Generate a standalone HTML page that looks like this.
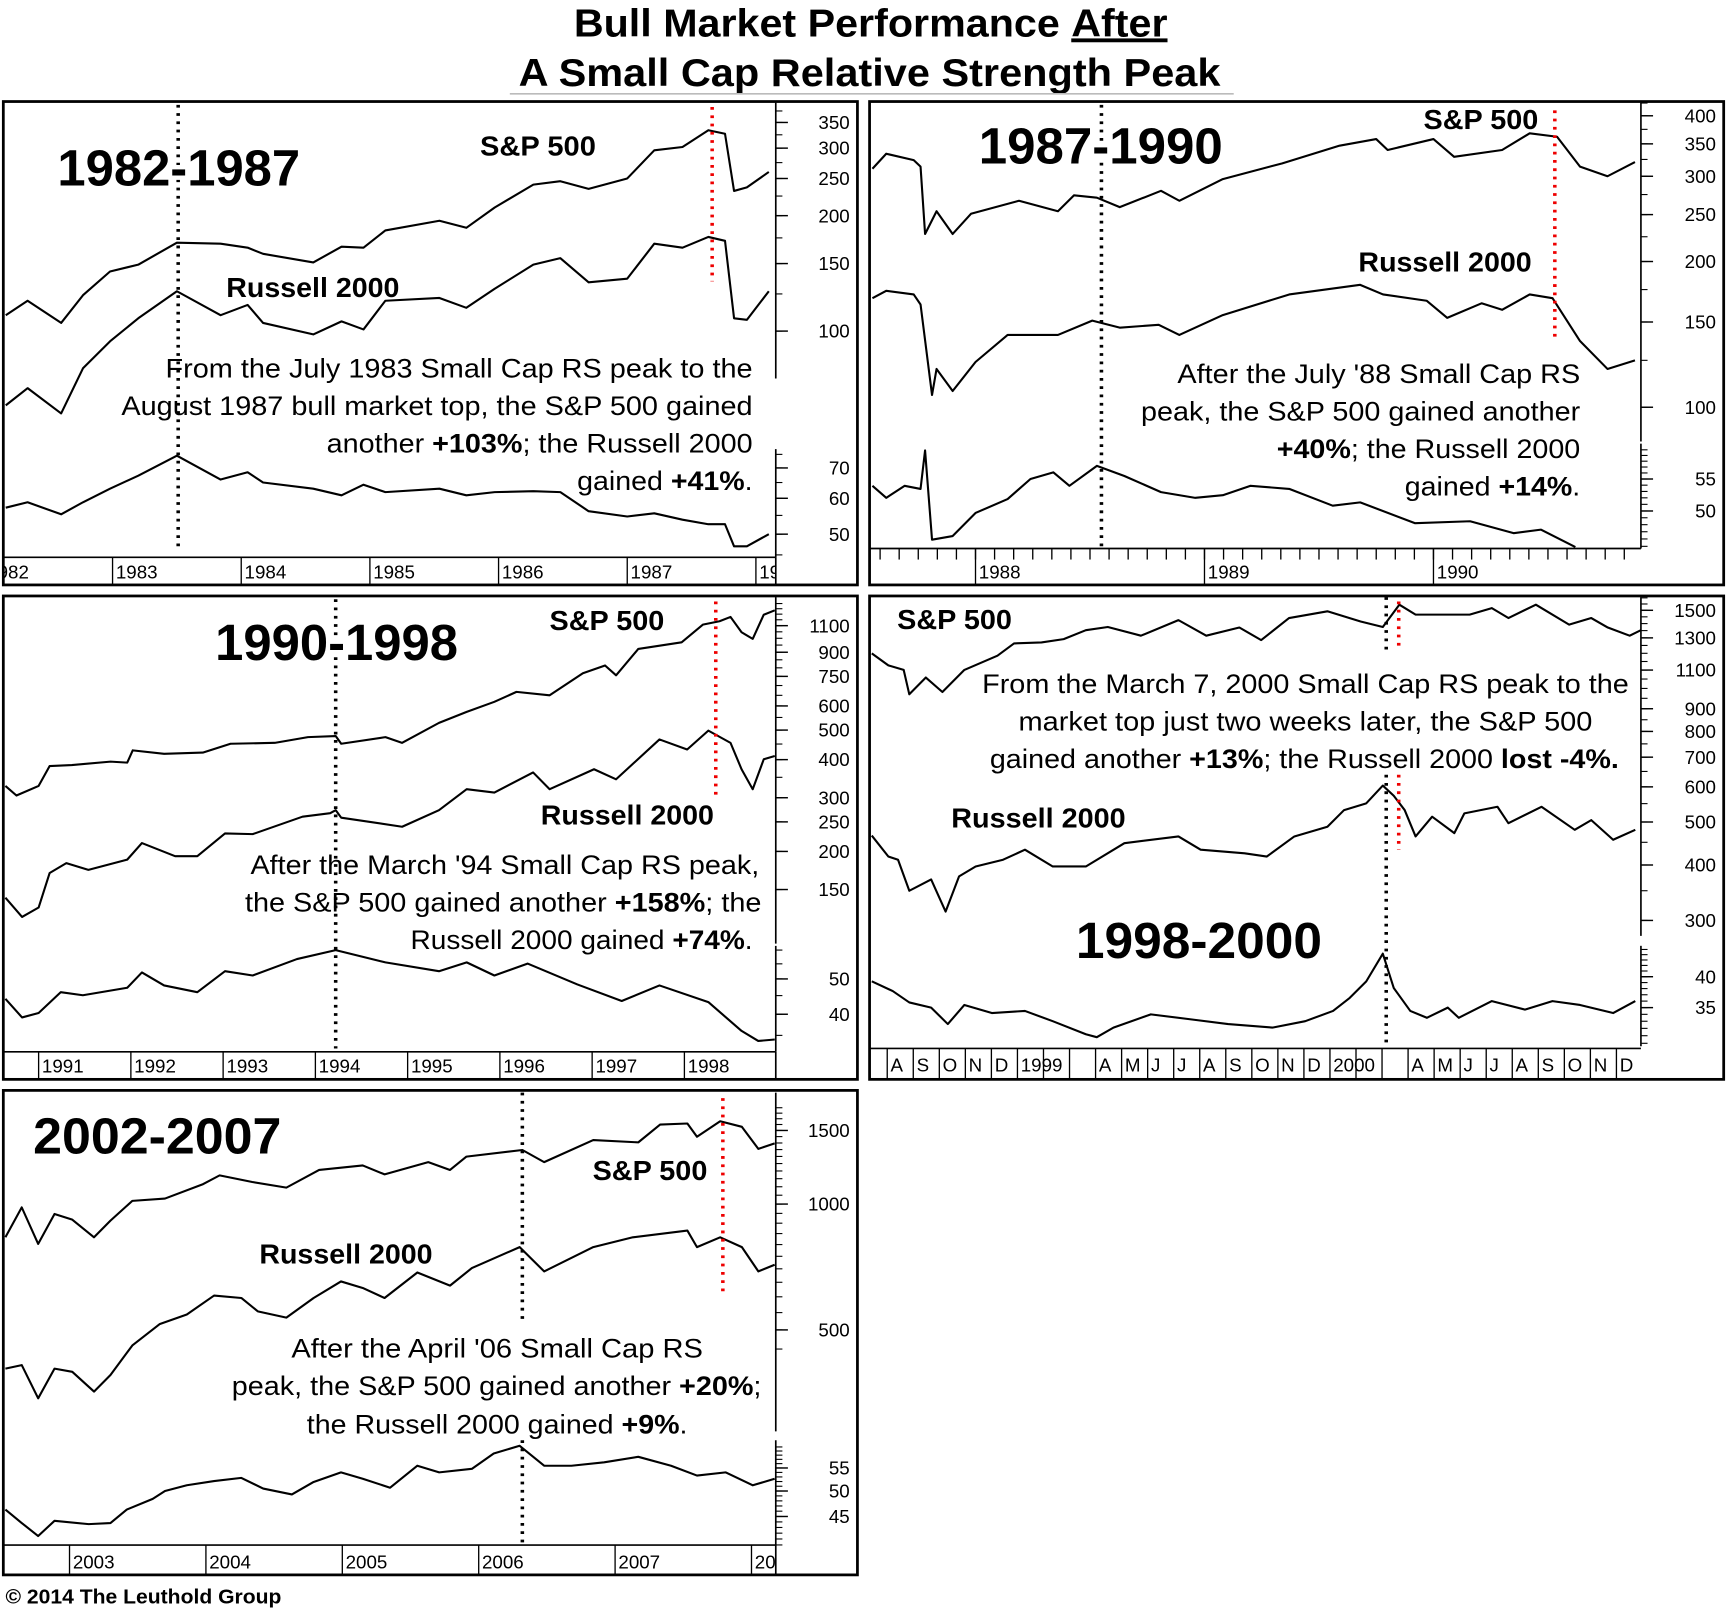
<!DOCTYPE html>
<html><head><meta charset="utf-8"><title>Bull Market Performance After A Small Cap Relative Strength Peak</title>
<style>
html,body{margin:0;padding:0;background:#fff;}
svg{display:block;}
text{font-family:"Liberation Sans",Arial,sans-serif;fill:#000;}
.big{font-size:46px;font-weight:bold;stroke:#fff;stroke-width:8px;paint-order:stroke;stroke-linejoin:round;}
.lab{font-size:25px;font-weight:bold;}
.ann{font-size:24px;}
.tick{font-size:17px;}
</style></head>
<body>
<svg id="chart" width="1727" height="1608" viewBox="0 0 1565 1457" preserveAspectRatio="none" xmlns="http://www.w3.org/2000/svg">
<defs>
<clipPath id="clipA"><rect x="4" y="93" width="699" height="412"/></clipPath>
<clipPath id="clipB"><rect x="789" y="93" width="698" height="404"/></clipPath>
<clipPath id="clipC"><rect x="4" y="541" width="699" height="412"/></clipPath>
<clipPath id="clipD"><rect x="789" y="541" width="698" height="409"/></clipPath>
<clipPath id="clipE"><rect x="4" y="989" width="699" height="411"/></clipPath>
<clipPath id="stripA"><rect x="4" y="505" width="699" height="25"/></clipPath>
<clipPath id="stripB"><rect x="789" y="497" width="698" height="33"/></clipPath>
<clipPath id="stripC"><rect x="4" y="953" width="699" height="25"/></clipPath>
<clipPath id="stripD"><rect x="789" y="950" width="698" height="28"/></clipPath>
<clipPath id="stripE"><rect x="4" y="1400" width="699" height="27"/></clipPath>
</defs>
<rect x="0" y="0" width="1565" height="1457" fill="#fff"/>
<g>
<text x="520" y="33" font-size="35" font-weight="bold" textLength="538" lengthAdjust="spacingAndGlyphs">Bull Market Performance <tspan text-decoration="underline">After</tspan></text>
<text x="470" y="78" font-size="35" font-weight="bold" textLength="636" lengthAdjust="spacingAndGlyphs">A Small Cap Relative Strength Peak</text>
<line x1="462" y1="85" x2="1118" y2="85" stroke="#bbb" stroke-width="1.5"/>
</g>

<g id="panelA">
<rect x="3" y="92" width="774" height="438" fill="none" stroke="#000" stroke-width="2.5"/>
<text class="big" x="52" y="168" textLength="220" lengthAdjust="spacingAndGlyphs">1982-1987</text>
<text class="lab" x="435" y="141" textLength="105" lengthAdjust="spacingAndGlyphs">S&amp;P 500</text>
<text class="lab" x="205" y="269" textLength="157" lengthAdjust="spacingAndGlyphs">Russell 2000</text>
<g>
<text class="ann" x="150" y="342" textLength="532" lengthAdjust="spacingAndGlyphs">From the July 1983 Small Cap RS peak to the</text>
<text class="ann" x="110" y="376" textLength="572" lengthAdjust="spacingAndGlyphs">August 1987 bull market top, the S&amp;P 500 gained</text>
<text class="ann" x="296" y="410" textLength="386" lengthAdjust="spacingAndGlyphs">another <tspan font-weight="bold">+103%</tspan>; the Russell 2000</text>
<text class="ann" x="523" y="444" textLength="159" lengthAdjust="spacingAndGlyphs">gained <tspan font-weight="bold">+41%</tspan>.</text>
</g>
</g>

<g id="panelB">
<rect x="788" y="92" width="774" height="438" fill="none" stroke="#000" stroke-width="2.5"/>
<text class="big" x="887" y="148" textLength="221" lengthAdjust="spacingAndGlyphs">1987-1990</text>
<text class="lab" x="1290" y="117" textLength="104" lengthAdjust="spacingAndGlyphs">S&amp;P 500</text>
<text class="lab" x="1231" y="246" textLength="157" lengthAdjust="spacingAndGlyphs">Russell 2000</text>
<g>
<text class="ann" x="1067" y="347" textLength="365" lengthAdjust="spacingAndGlyphs">After the July '88 Small Cap RS</text>
<text class="ann" x="1034" y="381" textLength="398" lengthAdjust="spacingAndGlyphs">peak, the S&amp;P 500 gained another</text>
<text class="ann" x="1157" y="415" textLength="275" lengthAdjust="spacingAndGlyphs"><tspan font-weight="bold">+40%</tspan>; the Russell 2000</text>
<text class="ann" x="1273" y="449" textLength="159" lengthAdjust="spacingAndGlyphs">gained <tspan font-weight="bold">+14%</tspan>.</text>
</g>
</g>

<g id="panelC">
<rect x="3" y="540" width="774" height="438" fill="none" stroke="#000" stroke-width="2.5"/>
<text class="big" x="195" y="598" textLength="220" lengthAdjust="spacingAndGlyphs">1990-1998</text>
<text class="lab" x="498" y="571" textLength="104" lengthAdjust="spacingAndGlyphs">S&amp;P 500</text>
<text class="lab" x="490" y="747" textLength="157" lengthAdjust="spacingAndGlyphs">Russell 2000</text>
<g>
<text class="ann" x="227" y="792" textLength="461" lengthAdjust="spacingAndGlyphs">After the March '94 Small Cap RS peak,</text>
<text class="ann" x="222" y="826" textLength="468" lengthAdjust="spacingAndGlyphs">the S&amp;P 500 gained another <tspan font-weight="bold">+158%</tspan>; the</text>
<text class="ann" x="372" y="860" textLength="310" lengthAdjust="spacingAndGlyphs">Russell 2000 gained <tspan font-weight="bold">+74%</tspan>.</text>
</g>
</g>

<g id="panelD">
<rect x="788" y="540" width="774" height="438" fill="none" stroke="#000" stroke-width="2.5"/>
<text class="lab" x="813" y="570" textLength="104" lengthAdjust="spacingAndGlyphs">S&amp;P 500</text>
<text class="lab" x="862" y="750" textLength="158" lengthAdjust="spacingAndGlyphs">Russell 2000</text>
<text class="big" x="975" y="868" textLength="223" lengthAdjust="spacingAndGlyphs">1998-2000</text>
<g>
<text class="ann" x="890" y="628" textLength="586" lengthAdjust="spacingAndGlyphs">From the March 7, 2000 Small Cap RS peak to the</text>
<text class="ann" x="923" y="662" textLength="520" lengthAdjust="spacingAndGlyphs">market top just two weeks later, the S&amp;P 500</text>
<text class="ann" x="897" y="696" textLength="570" lengthAdjust="spacingAndGlyphs">gained another <tspan font-weight="bold">+13%</tspan>; the Russell 2000 <tspan font-weight="bold">lost -4%.</tspan></text>
</g>
</g>

<g id="panelE">
<rect x="3" y="988" width="774" height="439" fill="none" stroke="#000" stroke-width="2.5"/>
<text class="big" x="30" y="1045" textLength="225" lengthAdjust="spacingAndGlyphs">2002-2007</text>
<text class="lab" x="537" y="1069" textLength="104" lengthAdjust="spacingAndGlyphs">S&amp;P 500</text>
<text class="lab" x="235" y="1145" textLength="157" lengthAdjust="spacingAndGlyphs">Russell 2000</text>
<g>
<text class="ann" x="264" y="1230" textLength="373" lengthAdjust="spacingAndGlyphs">After the April '06 Small Cap RS</text>
<text class="ann" x="210" y="1264" textLength="480" lengthAdjust="spacingAndGlyphs">peak, the S&amp;P 500 gained another <tspan font-weight="bold">+20%</tspan>;</text>
<text class="ann" x="278" y="1299" textLength="345" lengthAdjust="spacingAndGlyphs">the Russell 2000 gained <tspan font-weight="bold">+9%</tspan>.</text>
</g>
</g>

<text x="5" y="1453" font-size="18" font-weight="bold" textLength="250" lengthAdjust="spacingAndGlyphs">© 2014 The Leuthold Group</text>
</svg>

<script>
// ---------- DATA (decimal-year dates + index values) ----------
const aDates = [1982.17,1982.34,1982.60,1982.77,1982.98,1983.20,1983.50,1983.84,1984.05,1984.17,1984.56,1984.78,1984.95,1985.12,1985.54,1985.75,1985.97,1986.27,1986.48,1986.70,1987.00,1987.21,1987.43,1987.63,1987.76,1987.83,1987.93,1988.10];
const aSpx = [110,120,105,124,143,149,170,169,165,159,151,166,165,183,194,186,210,241,246,235,250,296,302,334,327,232,237,260];
const aRut = [64,71,61,80,94,108,127,110,117,105,98,106,101,120,122,115,129,149,155,134,137,169,165,176,172,108,107,127];
const aRatio = [57.2,58.8,55.3,58.8,63,67.3,74.5,66,68.5,65,63,60.9,64.3,61.9,63,60.9,61.9,62.2,61.9,56.2,54.7,55.6,53.8,52.6,52.6,47,47,50];
const bSpxDates = [1987.55,1987.61,1987.73,1987.76,1987.78,1987.83,1987.90,1987.98,1988.19,1988.36,1988.43,1988.53,1988.63,1988.81,1988.89,1989.08,1989.34,1989.59,1989.75,1989.80,1990.00,1990.09,1990.30,1990.42,1990.54,1990.64,1990.76,1990.88];
const bSpx = [311,334,324,314,228,254,228,251,267,254,274,271,259,280,267,296,319,347,358,340,358,329,340,368,362,314,300,321];
const bRutDates = [1987.55,1987.61,1987.73,1987.76,1987.81,1987.83,1987.90,1988.00,1988.14,1988.36,1988.51,1988.63,1988.80,1988.89,1989.08,1989.37,1989.68,1989.78,1989.97,1990.06,1990.21,1990.30,1990.42,1990.52,1990.64,1990.76,1990.88];
const bRut = [168,174,171,163,106,120,108,124,141,141,151,146,148,141,155,171,179,171,166,153,164,159,171,168,137,120,125];
const bRatioDates = [1987.55,1987.61,1987.69,1987.76,1987.78,1987.81,1987.90,1988.00,1988.14,1988.24,1988.34,1988.41,1988.53,1988.65,1988.81,1988.96,1989.08,1989.20,1989.37,1989.56,1989.68,1989.92,1990.16,1990.35,1990.47,1990.62];
const bRatio = [53.9,52.0,53.9,53.4,59.9,45.9,46.4,49.7,51.8,55.0,56.1,53.9,57.2,55.5,52.9,52.0,52.4,53.9,53.4,50.8,51.3,48.2,48.5,46.8,47.3,44.9];
const cSpxDates = [1990.64,1990.76,1991.00,1991.12,1991.36,1991.78,1991.96,1992.02,1992.36,1992.78,1993.08,1993.56,1993.92,1994.22,1994.28,1994.76,1994.94,1995.34,1995.64,1995.94,1996.18,1996.54,1996.90,1997.14,1997.26,1997.50,1997.97,1998.20,1998.38,1998.50,1998.62,1998.74,1998.86,1998.98];
const cSpx = [328,305,328,381,384,394,391,429,418,422,451,454,474,478,451,474,454,528,574,619,667,650,768,814,756,923,970,1108,1137,1175,1046,995,1195,1235];
const cRutDates = [1990.64,1990.82,1991.00,1991.12,1991.30,1991.54,1991.96,1992.12,1992.48,1992.72,1993.02,1993.32,1993.86,1994.16,1994.22,1994.28,1994.94,1995.34,1995.64,1995.94,1996.36,1996.54,1997.02,1997.26,1997.73,1998.03,1998.26,1998.50,1998.62,1998.74,1998.86,1998.98];
const cRut = [141,122,131,170,183,174,188,213,193,193,229,228,260,267,273,258,241,273,320,312,363,320,372,345,466,432,498,454,372,320,401,411];
const cRatioDates = [1990.64,1990.82,1991.00,1991.24,1991.48,1991.96,1992.12,1992.36,1992.72,1993.02,1993.32,1993.80,1994.22,1994.76,1995.34,1995.64,1995.94,1996.30,1996.84,1997.32,1997.73,1998.26,1998.62,1998.80,1998.98];
const cRatio = [44.1,39.2,40.3,46.0,45.1,47.3,52.1,48.0,46.0,52.5,51.1,56.7,60.0,55.5,52.5,55.5,51.1,55.1,48.3,43.5,48.0,43.2,36.0,33.8,34.1];
const dSpxDates = [1998.534,1998.587,1998.636,1998.654,1998.707,1998.760,1998.830,1998.936,1998.989,1999.077,1999.148,1999.219,1999.289,1999.395,1999.515,1999.604,1999.710,1999.780,1999.869,1999.992,2000.098,2000.169,2000.222,2000.274,2000.363,2000.447,2000.518,2000.571,2000.659,2000.765,2000.836,2000.889,2000.959,2000.995];
const dSpx = [1200,1127,1101,970,1058,982,1101,1185,1263,1270,1292,1353,1376,1315,1425,1315,1372,1285,1441,1492,1416,1376,1544,1467,1467,1467,1517,1441,1544,1392,1441,1372,1315,1353];
const dRutDates = [1998.534,1998.587,1998.618,1998.654,1998.724,1998.770,1998.813,1998.866,1998.954,1999.024,1999.113,1999.219,1999.342,1999.515,1999.586,1999.727,1999.798,1999.886,1999.992,2000.045,2000.116,2000.169,2000.204,2000.239,2000.274,2000.327,2000.398,2000.430,2000.536,2000.571,2000.677,2000.783,2000.836,2000.906,2000.977];
const dRut = [466,418,411,350,371,314,377,397,411,433,397,397,448,464,433,425,418,464,488,532,551,604,573,532,464,514,472,523,541,497,541,480,505,456,480];
const dRatioDates = [1998.534,1998.601,1998.654,1998.724,1998.777,1998.830,1998.918,1999.024,1999.113,1999.219,1999.254,1999.307,1999.427,1999.568,1999.674,1999.816,1999.921,2000.010,2000.063,2000.116,2000.169,2000.204,2000.257,2000.310,2000.377,2000.412,2000.518,2000.624,2000.712,2000.800,2000.906,2000.977];
const dRatio = [39.2,37.6,35.8,35.0,32.6,35.4,34.2,34.5,33.0,31.2,30.8,32.1,34.0,33.2,32.6,32.1,33.0,34.5,36.5,39.2,44.2,38.1,34.5,33.5,35.0,33.5,36.0,34.7,36.0,35.4,34.2,36.0];
const eSpxDates = [2002.53,2002.65,2002.77,2002.89,2003.02,2003.18,2003.30,2003.46,2003.70,2003.98,2004.10,2004.34,2004.59,2004.83,2005.15,2005.31,2005.63,2005.79,2005.91,2006.32,2006.48,2006.84,2007.17,2007.33,2007.53,2007.60,2007.77,2007.93,2008.05,2008.17];
const eSpx = [833,982,803,947,918,833,913,1018,1031,1116,1171,1129,1095,1207,1237,1178,1260,1207,1299,1347,1260,1423,1405,1549,1559,1449,1578,1530,1355,1397];
const eRutDates = [2002.53,2002.65,2002.77,2002.89,2003.02,2003.18,2003.30,2003.46,2003.66,2003.86,2004.06,2004.26,2004.38,2004.59,2004.79,2004.99,2005.15,2005.31,2005.55,2005.79,2005.95,2006.30,2006.48,2006.84,2007.13,2007.53,2007.60,2007.77,2007.93,2008.05,2008.17];
const eRut = [404,412,343,404,397,356,390,459,516,544,604,596,554,535,596,653,630,596,686,638,703,789,690,789,833,864,789,833,789,690,716];
const eRatioDates = [2002.53,2002.65,2002.77,2002.89,2003.14,2003.30,2003.42,2003.61,2003.70,2003.86,2004.06,2004.26,2004.42,2004.63,2004.79,2004.99,2005.15,2005.35,2005.55,2005.71,2005.95,2006.11,2006.30,2006.48,2006.68,2006.92,2007.17,2007.41,2007.60,2007.81,2008.01,2008.17];
const eRatio = [46.3,43.8,41.5,44.2,43.6,43.8,46.3,48.4,50,51.2,52.1,52.8,50.5,49.3,51.9,54.0,52.6,50.7,55.5,54.0,54.8,58.4,60.3,55.5,55.5,56.3,57.6,55.5,53.3,54.0,51.2,52.6];
const aMainTicks = [350,300,250,200,150,100];
const aRatioTicks = [70,60,50];
const bMainTicks = [400,350,300,250,200,150,100];
const bRatioTicks = [55,50];
const cMainTicks = [1100,900,750,600,500,400,300,250,200,150];
const cRatioTicks = [50,40];
const dMainTicks = [1500,1300,1100,900,800,700,600,500,400,300];
const dRatioTicks = [40,35];
const eMainTicks = [1500,1000,500];
const eRatioTicks = [55,50,45];
const aYears = [1982,1983,1984,1985,1986,1987,1988];
const bYears = [1988,1989,1990];
const cYears = [1991,1992,1993,1994,1995,1996,1997,1998];
const eYears = [2003,2004,2005,2006,2007,2008];
const dMonthLabels = ["A","S","O","N","D","1999","","","A","M","J","J","A","S","O","N","D","2000","","","A","M","J","J","A","S","O","N","D"];
const aPeaks = [1983.51, 1987.66];
const bPeaks = [1988.55, 1990.53];
const cPeaks = [1994.22, 1998.34];
const dPeaks = [2000.18, 2000.22];
const ePeaks = [2006.32, 2007.79];

// ---------- RENDERING ----------
const NS = "http://www.w3.org/2000/svg";
const svg = document.getElementById("chart");
function mk(tag, attrs, parent) {
  const el = document.createElementNS(NS, tag);
  for (const k in attrs) el.setAttribute(k, attrs[k]);
  (parent || svg).appendChild(el);
  return el;
}
function logScale(vRef, yRef, k) { return v => yRef - k * Math.log(v / vRef); }
function timeScale(t0, x0, ppy) { return t => x0 + (t - t0) * ppy; }

function drawSeries(g, dates, vals, xs, ys, clip, name) {
  let d = "";
  for (let i = 0; i < vals.length; i++) d += (i ? "L" : "M") + xs(dates[i]).toFixed(1) + "," + ys(vals[i]).toFixed(1);
  const p = mk("path", {d: d, fill: "none", stroke: "#000", "stroke-width": 1.9, "stroke-linejoin": "round", "clip-path": "url(#" + clip + ")"}, g);
  
  
}
function axis(g, ax, y1, y2, ys, labels, minors, labelX, name) {
  const ag = mk("g", {}, g);
  
  
  mk("line", {x1: ax, y1: y1, x2: ax, y2: y2, stroke: "#000", "stroke-width": 1.5}, ag);
  minors.forEach(v => { const y = ys(v); if (y >= y1 && y <= y2) mk("line", {x1: ax, y1: y, x2: ax + 6, y2: y, stroke: "#000", "stroke-width": 1}, ag); });
  labels.forEach(v => {
    const y = ys(v);
    mk("line", {x1: ax, y1: y, x2: ax + 11, y2: y, stroke: "#000", "stroke-width": 1.3}, ag);
    const t = mk("text", {x: labelX, y: y + 6, "text-anchor": "end", class: "tick"}, ag);
    t.textContent = v;
    
    
  });
}
function range(a, b, s) { const r = []; for (let v = a; v <= b + 1e-9; v += s) r.push(v); return r; }
function vline(g, x, y1, y2, color, name) {
  const l = mk("line", {x1: x, y1: y1, x2: x, y2: y2, stroke: color, "stroke-width": 3.2, "stroke-dasharray": "2.5 5"}, g);
  
  
}
function yearStrip(g, years, xs, yTop, yBot, x1, x2, clip, name) {
  const sg = mk("g", {"clip-path": "url(#" + clip + ")"}, g);
  
  
  mk("line", {x1: x1, y1: yTop, x2: x2, y2: yTop, stroke: "#000", "stroke-width": 1.5}, g);
  years.forEach(yr => {
    const x = xs(yr);
    mk("line", {x1: x, y1: yTop, x2: x, y2: yBot, stroke: "#000", "stroke-width": 1.2}, sg);
    const t = mk("text", {x: x + 3, y: yBot - 6, class: "tick"}, sg);
    t.textContent = yr;
    
    
  });
}
function raiseTitle(g) { const t = g.querySelector('.big'); if (t) g.appendChild(t); }

(function () {
  const g = document.getElementById("panelA");
  const xs = timeScale(1983, 102, 116.6), ys = logScale(100, 300, 150.9), yr = logScale(50, 484, 178.3);
  axis(g, 703, 93, 343, ys, aMainTicks, range(75, 375, 25), 770, "y-axis-price");
  axis(g, 703, 407, 505, yr, aRatioTicks, range(45, 75, 5), 770, "y-axis-ratio");
  drawSeries(g, aDates, aSpx, xs, ys, "clipA", "sp500-line");
  drawSeries(g, aDates, aRut, xs, ys, "clipA", "russell2000-line");
  drawSeries(g, aDates, aRatio, xs, yr, "clipA", "relative-strength-line");
  vline(g, xs(aPeaks[0]), 95, 500, "#000", "rs-peak-marker");
  vline(g, xs(aPeaks[1]), 97, 255, "#e00", "market-top-marker");
  mk("line", {x1: 703, y1: 505, x2: 703, y2: 530, stroke: "#000", "stroke-width": 1.5}, g);
  yearStrip(g, aYears, xs, 505, 530, 3, 703, "stripA", "x-axis-years");
  raiseTitle(g);
})();
(function () {
  const g = document.getElementById("panelB");
  const xs = timeScale(1988, 884, 207.5), ys = logScale(100, 369, 190.5), yr = logScale(50, 463, 304);
  axis(g, 1487, 93, 400, ys, bMainTicks, range(100, 425, 25), 1555, "y-axis-price");
  axis(g, 1487, 402, 497, yr, bRatioTicks, range(44, 60, 1), 1555, "y-axis-ratio");
  drawSeries(g, bSpxDates, bSpx, xs, ys, "clipB", "sp500-line");
  drawSeries(g, bRutDates, bRut, xs, ys, "clipB", "russell2000-line");
  drawSeries(g, bRatioDates, bRatio, xs, yr, "clipB", "relative-strength-line");
  vline(g, xs(bPeaks[0]), 95, 495, "#000", "rs-peak-marker");
  vline(g, xs(bPeaks[1]), 100, 305, "#e00", "market-top-marker");
  const mt = mk("g", {}, g);
  
  
  for (let m = -6; m <= 35; m++) { const x = xs(1988 + m / 12); if (x > 789 && x < 1487) mk("line", {x1: x, y1: 497, x2: x, y2: 507, stroke: "#000", "stroke-width": 1.2}, mt); }
  yearStrip(g, bYears, xs, 497, 530, 788, 1487, "stripB", "x-axis-years");
  raiseTitle(g);
})();
(function () {
  const g = document.getElementById("panelC");
  const xs = timeScale(1991, 35, 83.6), ys = logScale(150, 806, 120), yr = logScale(50, 887, 143.4);
  axis(g, 703, 541, 855, ys, cMainTicks, range(150, 1300, 50), 770, "y-axis-price");
  axis(g, 703, 857, 953, yr, cRatioTicks, range(30, 60, 5), 770, "y-axis-ratio");
  drawSeries(g, cSpxDates, cSpx, xs, ys, "clipC", "sp500-line");
  drawSeries(g, cRutDates, cRut, xs, ys, "clipC", "russell2000-line");
  drawSeries(g, cRatioDates, cRatio, xs, yr, "clipC", "relative-strength-line");
  vline(g, xs(cPeaks[0]), 543, 950, "#000", "rs-peak-marker");
  vline(g, xs(cPeaks[1]), 545, 725, "#e00", "market-top-marker");
  mk("line", {x1: 703, y1: 953, x2: 703, y2: 978, stroke: "#000", "stroke-width": 1.5}, g);
  yearStrip(g, cYears, xs, 953, 978, 3, 703, "stripC", "x-axis-years");
  raiseTitle(g);
})();
(function () {
  const g = document.getElementById("panelD");
  const xs = timeScale(1998.5833, 804, 283.2), ys = logScale(300, 834, 174.6), yr = logScale(40, 885, 209.7);
  axis(g, 1487, 541, 848, ys, dMainTicks, range(300, 1600, 50), 1555, "y-axis-price");
  axis(g, 1487, 857, 948, yr, dRatioTicks, range(29, 46, 1), 1555, "y-axis-ratio");
  drawSeries(g, dSpxDates, dSpx, xs, ys, "clipD", "sp500-line");
  drawSeries(g, dRutDates, dRut, xs, ys, "clipD", "russell2000-line");
  drawSeries(g, dRatioDates, dRatio, xs, yr, "clipD", "relative-strength-line");
  vline(g, xs(dPeaks[0]), 541, 590, "#000", "rs-peak-marker-top");
  vline(g, xs(dPeaks[0]), 702, 945, "#000", "rs-peak-marker");
  vline(g, xs(dPeaks[1]), 545, 590, "#e00", "market-top-marker-top");
  vline(g, xs(dPeaks[1]), 702, 770, "#e00", "market-top-marker");
  const sg = mk("g", {"clip-path": "url(#stripD)"}, g);
  
  
  mk("line", {x1: 788, y1: 950, x2: 1487, y2: 950, stroke: "#000", "stroke-width": 1.5}, g);
  dMonthLabels.forEach((lbl, i) => {
    const x = xs(1998.5833 + i / 12);
    mk("line", {x1: x, y1: 950, x2: x, y2: 978, stroke: "#000", "stroke-width": 1.2}, sg);
    if (lbl) {
      const t = mk("text", {x: x + 3, y: 971, class: "tick"}, sg);
      t.textContent = lbl;
      
      
    }
  });
  raiseTitle(g);
})();
(function () {
  const g = document.getElementById("panelE");
  const xs = timeScale(2003, 63, 123.6), ys = logScale(1000, 1091, 164.5), yr = logScale(50, 1351, 219);
  axis(g, 703, 990, 1297, ys, eMainTicks, range(450, 1700, 50), 770, "y-axis-price");
  axis(g, 703, 1305, 1400, yr, eRatioTicks, range(40, 60, 1), 770, "y-axis-ratio");
  drawSeries(g, eSpxDates, eSpx, xs, ys, "clipE", "sp500-line");
  drawSeries(g, eRutDates, eRut, xs, ys, "clipE", "russell2000-line");
  drawSeries(g, eRatioDates, eRatio, xs, yr, "clipE", "relative-strength-line");
  vline(g, xs(ePeaks[0]), 990, 1195, "#000", "rs-peak-marker-top");
  vline(g, xs(ePeaks[0]), 1305, 1398, "#000", "rs-peak-marker");
  vline(g, xs(ePeaks[1]), 995, 1172, "#e00", "market-top-marker");
  mk("line", {x1: 703, y1: 1400, x2: 703, y2: 1427, stroke: "#000", "stroke-width": 1.5}, g);
  yearStrip(g, eYears, xs, 1400, 1427, 3, 703, "stripE", "x-axis-years");
  raiseTitle(g);
})();
</script>
</body></html>
